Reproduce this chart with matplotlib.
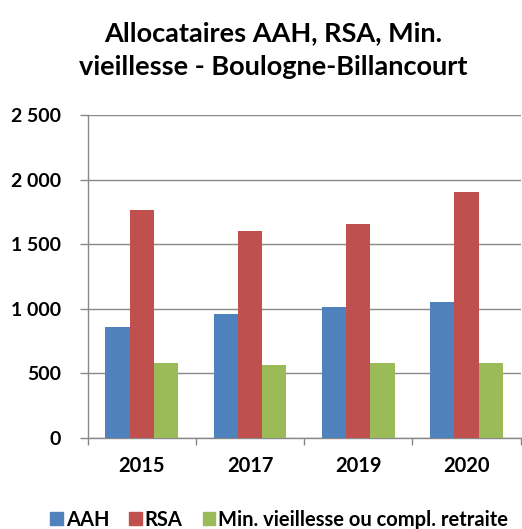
import numpy as np
import matplotlib
matplotlib.use("Agg")
import matplotlib.pyplot as plt
from matplotlib.patches import Patch

# data
years = ['2015', '2017', '2019', '2020']
aah = [860, 957, 1016, 1050]
rsa = [1765, 1605, 1654, 1902]
min_vieil = [581, 564, 581, 581]
series_names = ['AAH', 'RSA', 'Min. vieillesse ou compl. retraite']
colors = ['#4F81BD', '#C0504D', '#9BBB59']
yticks = [0, 500, 1000, 1500, 2000, 2500]
ytick_labels = ['0', '500', '1 000', '1 500', '2 000', '2 500']

plt.rcParams['font.family'] = ['Lato', 'DejaVu Sans']
plt.rcParams['font.weight'] = 'bold'

fig = plt.figure(figsize=(5.22, 5.29), dpi=100, facecolor='w')
ax = fig.add_axes([0.168, 0.1726, 0.8295, 0.61])

x = np.arange(len(years))
w = 0.224
for i, vals in enumerate([aah, rsa, min_vieil]):
    ax.bar(x + (i - 1) * w, vals, w, color=colors[i], zorder=3)

ax.set_xlim(-0.5, len(years) - 0.5)
ax.set_ylim(0, 2500)
ax.set_yticks(yticks)
ax.set_yticklabels(ytick_labels, fontsize=14, fontweight='bold')
ax.set_xticks(x)
ax.set_xticklabels(years, fontsize=14.5, fontweight='bold')
ax.set_xticks(np.arange(-0.5, len(years)), minor=True)
ax.tick_params(axis='x', which='major', length=0, pad=13)
ax.tick_params(axis='x', which='minor', length=5, color='#888888', width=1)
ax.tick_params(axis='y', length=6, color='#888888', width=1, pad=13)

ax.grid(axis='y', color='#888888', lw=1, zorder=0)
for s in ('top', 'right'):
    ax.spines[s].set_visible(False)
for s in ('left', 'bottom'):
    ax.spines[s].set_color('#888888')
    ax.spines[s].set_linewidth(1)

fig.text(0.523, 0.906, 'Allocataires AAH, RSA, Min.\nvieillesse - Boulogne-Billancourt',
         ha='center', va='center', fontsize=19.5, fontweight='bold',
         linespacing=1.5)

handles = [Patch(color=c, label=n) for c, n in zip(colors, series_names)]
fig.legend(handles=handles, loc='center', bbox_to_anchor=(0.535, 0.017), ncol=3,
           frameon=False, fontsize=14.5, handlelength=0.62, handleheight=0.62,
           handletextpad=0.15, columnspacing=1.0, borderaxespad=0)

fig.savefig('out.png', dpi=100)
